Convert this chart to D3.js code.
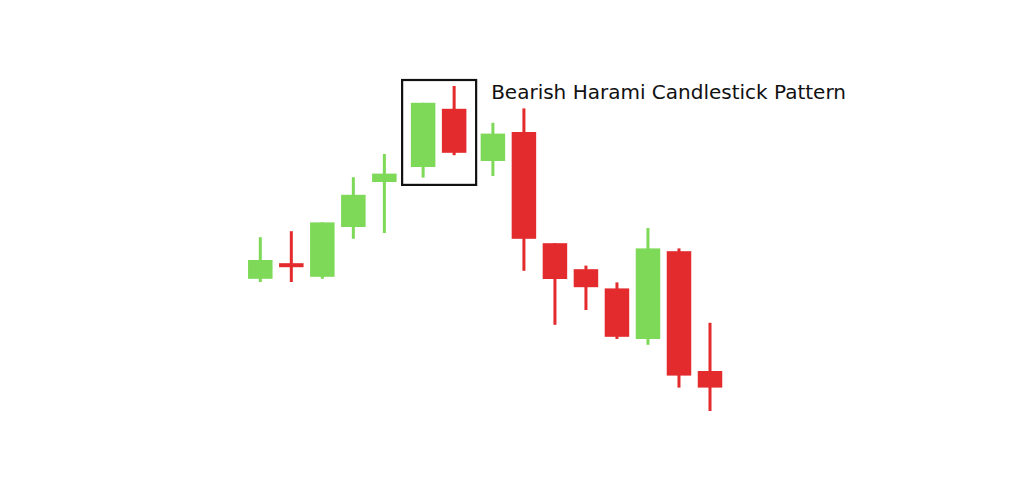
<!DOCTYPE html>
<html>
<head>
<meta charset="utf-8">
<script src="https://cdn.jsdelivr.net/npm/d3@7"></script>
<style>
  html, body { margin: 0; padding: 0; background: #fff; }
  svg { display: block; }
</style>
</head>
<body>
<svg id="chart" width="1024" height="479"></svg>
<script>
// ---- data ----
const sessions = [0, 1, 2, 3, 4, 5.25, 6.25, 7.5, 8.5, 9.5, 10.5, 11.5, 12.5, 13.5, 14.5];
const opens  = [40.3, 44.2, 40.8, 53.25, 64.5, 68.25, 82.8, 69.75, 77.0, 49.2, 42.7, 37.9, 25.25, 47.2, 17.25];
const closes = [45.0, 43.2, 54.4, 61.3, 66.6, 84.3, 71.8, 76.6, 50.3, 40.25, 38.2, 25.8, 47.9, 16.1, 13.1];
const highs  = [50.7, 52.2, 54.4, 65.7, 71.5, 84.3, 88.5, 79.3, 82.9, 49.2, 43.6, 39.4, 53.0, 47.9, 29.3];
const lows   = [39.5, 39.5, 40.3, 50.3, 51.75, 65.6, 71.2, 66.0, 42.3, 28.8, 32.5, 25.25, 23.8, 13.1, 7.25];
const patternIdx = [5, 6];
const title = "Bearish Harami Candlestick Pattern";

const candles = sessions.map((s, i) => ({ s, o: opens[i], c: closes[i], h: highs[i], l: lows[i], i }));

const svg = d3.select("#chart");
const x = d3.scaleLinear().domain([0, 14.5]).range([260.3, 710]);
const y = d3.scaleLinear().domain([0, 100]).range([440, 40]);

const GREEN = "#7DD957";
const RED = "#E32B2D";
const bodyW = 24.5;
const wickW = 3;

const g = svg.append("g");
const cg = g.selectAll("g.candle").data(candles).join("g").attr("class", "candle");

cg.append("rect")
  .attr("x", d => x(d.s) - wickW / 2)
  .attr("width", wickW)
  .attr("y", d => y(d.h))
  .attr("height", d => y(d.l) - y(d.h))
  .attr("fill", d => d.c >= d.o ? GREEN : RED);

cg.append("rect")
  .attr("x", d => x(d.s) - bodyW / 2)
  .attr("width", bodyW)
  .attr("y", d => y(Math.max(d.o, d.c)))
  .attr("height", d => Math.max(3.5, Math.abs(y(d.o) - y(d.c))))
  .attr("fill", d => d.c >= d.o ? GREEN : RED);

// pattern box
const pc = patternIdx.map(i => candles[i]);
const bx0 = x(d3.min(pc, d => d.s)) - 21;
const bx1 = x(d3.max(pc, d => d.s)) + 22;
const by0 = y(d3.max(pc, d => d.h)) - 6;
const by1 = y(d3.min(pc, d => d.l)) + 7.3;
svg.append("rect")
  .attr("x", bx0).attr("y", by0)
  .attr("width", bx1 - bx0).attr("height", by1 - by0)
  .attr("fill", "none").attr("stroke", "#111").attr("stroke-width", 2.2);

svg.append("text")
  .attr("x", bx1 + 15)
  .attr("y", by0 + 19)
  .attr("font-family", "DejaVu Sans, sans-serif")
  .attr("font-size", 20)
  .attr("fill", "#111")
  .text(title);
</script>
</body>
</html>
